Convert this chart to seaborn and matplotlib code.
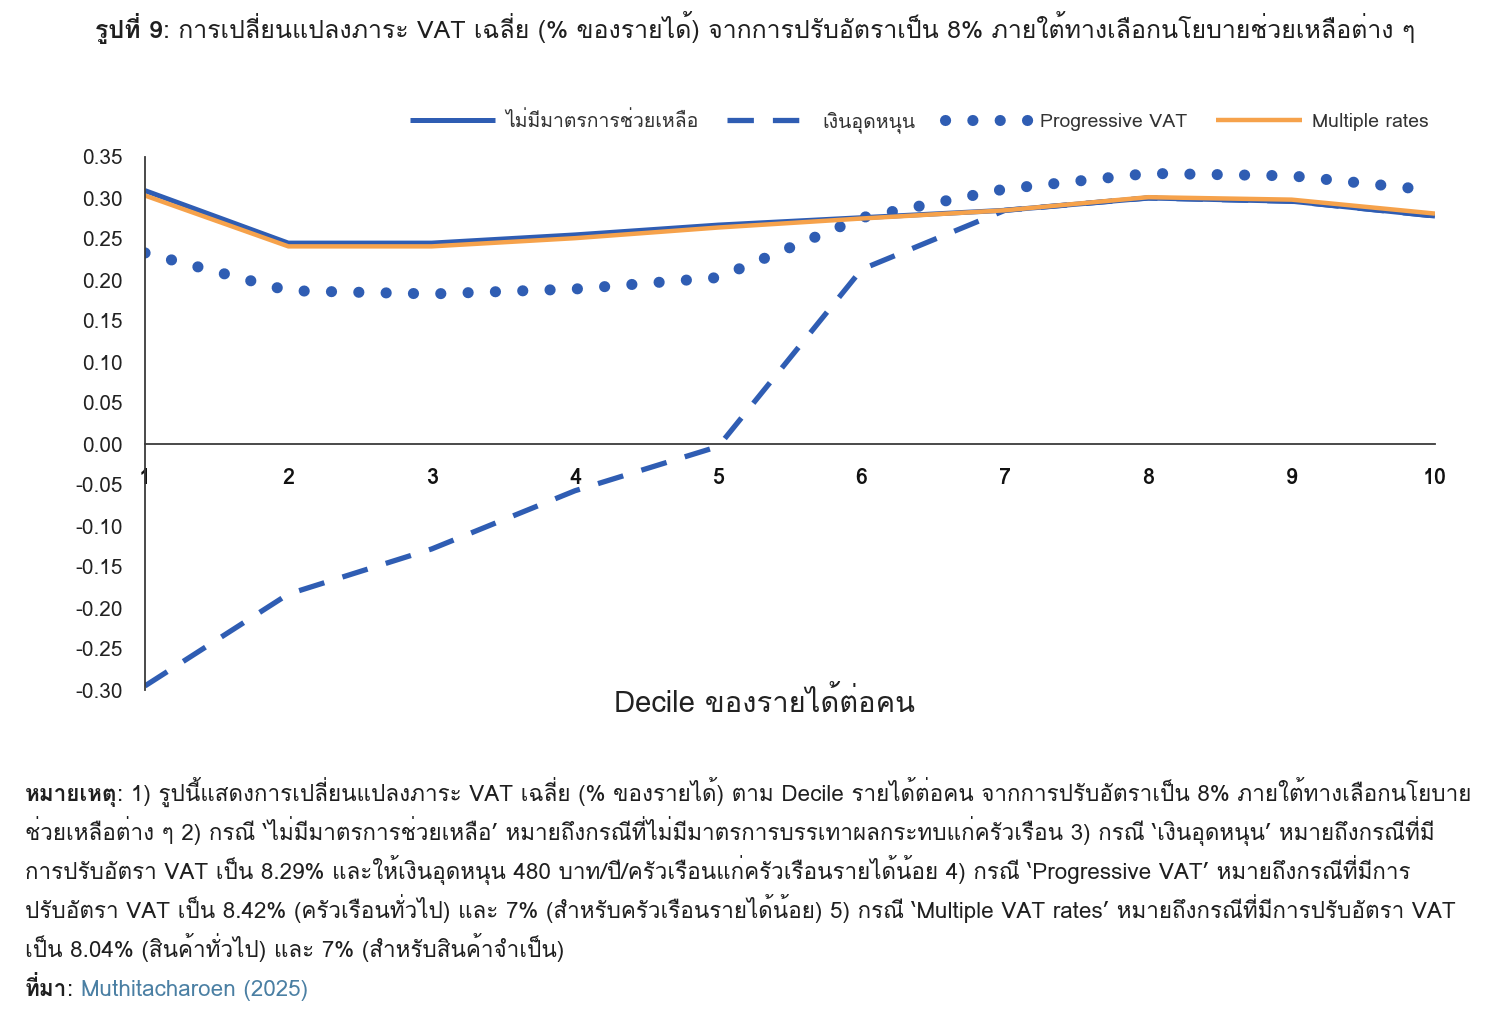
import matplotlib
matplotlib.use("Agg")
import numpy as np
import pandas as pd
import matplotlib.pyplot as plt
import seaborn as sns

# data
deciles = [1, 2, 3, 4, 5, 6, 7, 8, 9, 10]
no_measure = [0.309, 0.245, 0.245, 0.255, 0.267, 0.276, 0.285, 0.300, 0.296, 0.278]
cash_transfer = [-0.295, -0.183, -0.128, -0.057, -0.003, 0.213, 0.285, 0.300, 0.296, 0.278]
progressive = [0.233, 0.187, 0.183, 0.189, 0.203, 0.276, 0.311, 0.330, 0.327, 0.309]
multiple_rates = [0.303, 0.241, 0.241, 0.251, 0.264, 0.275, 0.285, 0.301, 0.298, 0.281]

series_names = ["ไม่มีมาตรการช่วยเหลือ", "เงินอุดหนุน", "Progressive VAT", "Multiple rates"]
y_ticks = [-0.30, -0.25, -0.20, -0.15, -0.10, -0.05, 0.00, 0.05, 0.10, 0.15, 0.20, 0.25, 0.30, 0.35]
y_tick_labels = ["%.2f" % v for v in y_ticks]

title_bold = "รูปที่ 9"
title_rest = ": การเปลี่ยนแปลงภาระ VAT เฉลี่ย (% ของรายได้) จากการปรับอัตราเป็น 8% ภายใต้ทางเลือกนโยบายช่วยเหลือต่าง ๆ"
x_label = "Decile ของรายได้ต่อคน"
note_bold = "หมายเหตุ"
note_lines = [
    ": 1) รูปนี้แสดงการเปลี่ยนแปลงภาระ VAT เฉลี่ย (% ของรายได้) ตาม Decile รายได้ต่อคน จากการปรับอัตราเป็น 8% ภายใต้ทางเลือกนโยบาย",
    "ช่วยเหลือต่าง ๆ 2) กรณี ‘ไม่มีมาตรการช่วยเหลือ’ หมายถึงกรณีที่ไม่มีมาตรการบรรเทาผลกระทบแก่ครัวเรือน 3) กรณี ‘เงินอุดหนุน’ หมายถึงกรณีที่มี",
    "การปรับอัตรา VAT เป็น 8.29% และให้เงินอุดหนุน 480 บาท/ปี/ครัวเรือนแก่ครัวเรือนรายได้น้อย 4) กรณี ‘Progressive VAT’ หมายถึงกรณีที่มีการ",
    "ปรับอัตรา VAT เป็น 8.42% (ครัวเรือนทั่วไป) และ 7% (สำหรับครัวเรือนรายได้น้อย) 5) กรณี ‘Multiple VAT rates’ หมายถึงกรณีที่มีการปรับอัตรา VAT",
    "เป็น 8.04% (สินค้าทั่วไป) และ 7% (สำหรับสินค้าจำเป็น)",
]
source_bold = "ที่มา"
source_text = "Muthitacharoen (2025)"

df = pd.DataFrame({
    "decile": deciles * 4,
    "value": no_measure + cash_transfer + progressive + multiple_rates,
    "series": [series_names[0]] * 10 + [series_names[1]] * 10 + [series_names[2]] * 10 + [series_names[3]] * 10,
})

sns.set_theme(style="white")
thai = ["Loma", "Noto Sans Thai", "DejaVu Sans"]
plt.rcParams["font.family"] = thai

blue = "#2F5DB3"
orange = "#F6A24B"
axis_col = "#3a3a3a"
text_col = "#1f1f1f"

fig = plt.figure(figsize=(14.96, 10.24), dpi=100)
ax = fig.add_axes([145 / 1496, 1 - 690 / 1024, 1290 / 1496, 533 / 1024])

styles = {
    series_names[0]: dict(color=blue, lw=3.6, ls="-", solid_capstyle="butt"),
    series_names[1]: dict(color=blue, lw=3.8, ls=(0, (5.0, 3.6)), dash_capstyle="butt"),
    series_names[2]: dict(color=blue, lw=8.0, ls=(0, (0.01, 2.45)), dash_capstyle="round"),
    series_names[3]: dict(color=orange, lw=3.2, ls="-", solid_capstyle="butt"),
}
for name in series_names:
    sns.lineplot(data=df[df["series"] == name], x="decile", y="value", ax=ax,
                 label=name, **styles[name])

# spines first: moving a spine resets the ticks
for s in ["top", "right"]:
    ax.spines[s].set_visible(False)
ax.spines["bottom"].set_position(("data", 0))
for s in ["left", "bottom"]:
    ax.spines[s].set_color(axis_col)
    ax.spines[s].set_linewidth(1.3)

ax.set_xlim(1, 10)
ax.set_ylim(-0.30, 0.35)
ax.tick_params(axis="y", direction="out", length=6, width=1.3, color=axis_col,
               labelsize=15, labelcolor="#222222", pad=10)
ax.tick_params(axis="x", direction="out", length=6, width=1.3, color=axis_col,
               labelsize=15.5, labelcolor="#111111", pad=11)
ax.set_yticks(y_ticks, y_tick_labels)
ax.set_xticks(deciles, [str(d) for d in deciles], fontweight="bold")
ax.set_xlabel("")
ax.set_ylabel("")
fig.text(765 / 1496, 1 - 702 / 1024, x_label, ha="center", va="center",
         fontsize=21, color="#222222")

ax.legend(loc="center", bbox_to_anchor=(0.6, 1.066), ncol=4, frameon=False,
          fontsize=14, handlelength=4.4, columnspacing=1.5, handletextpad=0.5,
          labelcolor="#333333")

# title and notes: bold lead-in followed by regular text, fitted to the reference width
renderer = fig.canvas.get_renderer()


def mixed_line(x_px, y_px, parts, size, center=False, fit=None):
    texts = []
    for s, weight, col in parts:
        t = fig.text(0, 1 - y_px / 1024, s, fontsize=size, fontweight=weight,
                     color=col, va="baseline", ha="left")
        texts.append(t)
    widths = [t.get_window_extent(renderer).width for t in texts]
    if fit is not None:
        size = size * fit / sum(widths)
        for t in texts:
            t.set_fontsize(size)
        widths = [t.get_window_extent(renderer).width for t in texts]
    x = x_px - (sum(widths) / 2 if center else 0)
    for t, w in zip(texts, widths):
        t.set_x(x / 1496)
        x += w
    return size


mixed_line(755, 38, [(title_bold, "bold", text_col), (title_rest, "normal", text_col)],
           17, center=True, fit=1320)
note_size = mixed_line(25, 801, [(note_bold, "bold", text_col), (note_lines[0], "normal", text_col)],
                       16, fit=1447)
for i, line in enumerate(note_lines[1:]):
    mixed_line(25, 801 + 39 * (i + 1), [(line, "normal", text_col)], note_size)
mixed_line(25, 801 + 39 * 5, [(source_bold, "bold", text_col), (": ", "normal", text_col),
                              (source_text, "normal", "#4A7FA3")], note_size)

fig.canvas.draw()
for tick in ax.xaxis.get_major_ticks():
    tick.label1.set_fontweight("bold")

fig.savefig("out.png", dpi=100)
